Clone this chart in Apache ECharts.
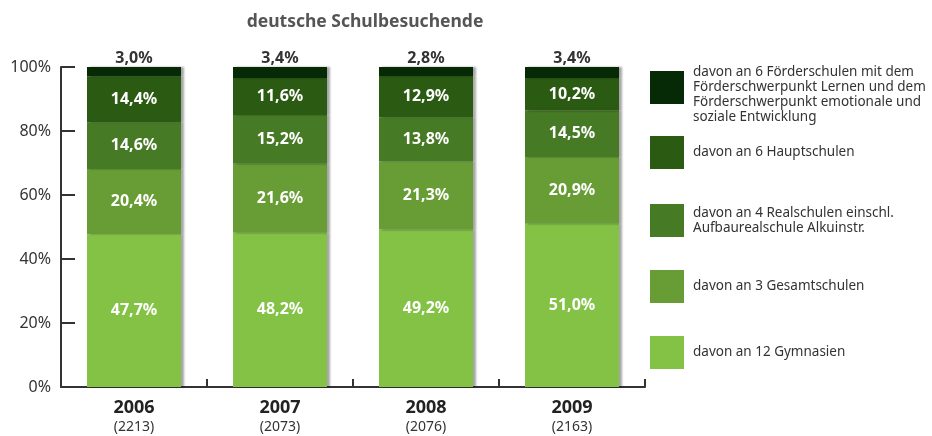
<!DOCTYPE html>
<html>
<head>
    <meta charset="utf-8">
    <title>deutsche Schulbesuchende</title>
    <script src="https://cdn.jsdelivr.net/npm/echarts@6/dist/echarts.min.js"></script>
</head>
<body style="margin:0">
    <div id="main" style="width: 932px;height:436px;"></div>

    <script type="text/javascript">
        // Jahre und Anzahl Schüler
        var years = ['2006', '2007', '2008', '2009'];
        var totals = ['2213', '2073', '2076', '2163'];

        // Anteile in Prozent (von unten nach oben gestapelt)
        var gymnasien = [47.7, 48.2, 49.2, 51.0];
        var gesamtschulen = [20.4, 21.6, 21.3, 20.9];
        var realschulen = [14.6, 15.2, 13.8, 14.5];
        var hauptschulen = [14.4, 11.6, 12.9, 10.2];
        var foerderschulen = [3.0, 3.4, 2.8, 3.4];

        var names = [
            'davon an 12 Gymnasien',
            'davon an 3 Gesamtschulen',
            'davon an 4 Realschulen einschl.\nAufbaurealschule Alkuinstr.',
            'davon an 6 Hauptschulen',
            'davon an 6 Förderschulen mit dem\nFörderschwerpunkt Lernen und dem\nFörderschwerpunkt emotionale und\nsoziale Entwicklung'
        ];
        var colors = ['#83c245', '#689d35', '#467a24', '#2b5a12', '#052a05'];
        var values = [gymnasien, gesamtschulen, realschulen, hauptschulen, foerderschulen];

        var myChart = echarts.init(document.getElementById('main'));
        var font = '"Noto Sans", sans-serif';

        function fmt(v) {
            return v.toFixed(1).replace('.', ',') + '%';
        }

        var series = values.map(function (data, i) {
            var top = i === 4;
            return {
                name: names[i],
                type: 'bar',
                stack: 'total',
                barWidth: 94,
                data: data,
                itemStyle: {
                    color: colors[i],
                    shadowColor: 'rgba(0,0,0,0.35)',
                    shadowBlur: 2,
                    shadowOffsetX: 3
                },
                label: {
                    show: true,
                    position: top ? 'top' : 'inside',
                    distance: 1,
                    color: top ? '#333' : '#fff',
                    fontWeight: 'bold',
                    fontSize: 16,
                    fontFamily: font,
                    formatter: function (p) { return fmt(p.value); }
                }
            };
        });

        // Legende: ein Eintrag pro Komponente, oben dunkelster
        var legendTops = [336, 270, 204, 136, 50];
        var legends = names.map(function (n, i) {
            return {
                orient: 'vertical',
                left: 650,
                top: legendTops[i],
                padding: 0,
                itemWidth: 34,
                itemHeight: 33,
                itemGap: 0,
                icon: 'rect',
                data: [n],
                selectedMode: false,
                formatter: function (name) {
                    // erster Eintrag oben bündig mit dem Kästchen
                    return i === 4 ? '\n' + name : name;
                },
                textStyle: {
                    color: '#333',
                    fontSize: 13.5,
                    lineHeight: 15,
                    fontFamily: font,
                    padding: [0, 0, 0, 4]
                }
            };
        });

        var option = {
            animation: false,
            title: {
                text: 'deutsche Schulbesuchende',
                left: 360,
                textAlign: 'center',
                top: 8,
                textStyle: {
                    color: '#555',
                    fontSize: 17.5,
                    fontWeight: 'bold',
                    fontFamily: font
                }
            },
            legend: legends,
            grid: {
                left: 61,
                right: 287,
                top: 67,
                bottom: 49
            },
            xAxis: {
                type: 'category',
                data: years,
                axisLine: { lineStyle: { color: '#333', width: 2 } },
                axisTick: { show: true, inside: true, length: 8, lineStyle: { color: '#333', width: 2 } },
                axisLabel: {
                    margin: 10,
                    formatter: function (v, idx) {
                        return '{y|' + v + '}\n{n|(' + totals[idx] + ')}';
                    },
                    rich: {
                        y: { fontSize: 18, fontWeight: 'bold', color: '#222', fontFamily: font, lineHeight: 22 },
                        n: { fontSize: 14, color: '#333', fontFamily: font, lineHeight: 17 }
                    }
                }
            },
            yAxis: {
                type: 'value',
                min: 0,
                max: 100,
                interval: 20,
                splitLine: { show: false },
                axisLine: { show: true, lineStyle: { color: '#333', width: 2 } },
                axisTick: { show: true, inside: true, length: 14, lineStyle: { color: '#333', width: 2 } },
                axisLabel: {
                    formatter: '{value}%',
                    color: '#333',
                    fontSize: 16,
                    fontFamily: font,
                    margin: 10
                }
            },
            series: series
        };

        myChart.setOption(option);
    </script>
</body>
</html>
